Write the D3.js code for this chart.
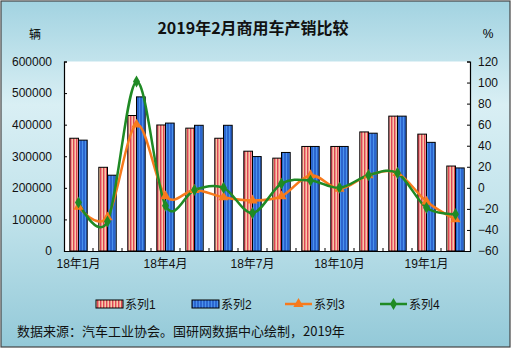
<!DOCTYPE html>
<html>
<head>
<meta charset="utf-8">
<script src="https://cdn.jsdelivr.net/npm/d3@7"></script>
<style>
  body { margin: 0; background: #fff; }
  svg { display: block; font-family: "Liberation Sans", "Noto Sans CJK SC", sans-serif; }
</style>
</head>
<body>
<div id="chart"></div>
<script>
const categories = ['18年1月', '18年2月', '18年3月', '18年4月', '18年5月', '18年6月', '18年7月',
  '18年8月', '18年9月', '18年10月', '18年11月', '18年12月', '19年1月', '19年2月']
const tickLabels = ['18年1月', '18年4月', '18年7月', '18年10月', '19年1月']
const series1 = [357000, 265000, 429000, 399000, 389000, 357000, 316000, 294000, 331000, 331000, 377000, 427000, 370000, 269000]
const series2 = [351000, 240000, 488000, 405000, 398000, 398000, 299000, 312000, 331000, 331000, 373000, 427000, 344000, 263000]
const series3 = [-18, -28, 60, -8, -2, -9, -12, -8, 12, -1, 12, 14, -13, -30]
const series4 = [-14, -32, 101, -17, -2, 0, -24, 4, 7, 0, 12, 14, -19, -25]
const seriesNames = ['系列1', '系列2', '系列3', '系列4']
const leftTicks = [0, 100000, 200000, 300000, 400000, 500000, 600000]
const rightTicks = [-60, -40, -20, 0, 20, 40, 60, 80, 100, 120]

const W = 512, H = 353
const PLOT = { LEFT: 64, RIGHT: 470, TOP: 61.5, BOTTOM: 251 }
const ORANGE = '#f77a1c', GREEN = '#1f8a24'

const svg = d3.select('#chart').append('svg')
  .attr('width', W).attr('height', H)

const defs = svg.append('defs')
const grad = defs.append('linearGradient').attr('id', 'bg')
  .attr('x1', 0).attr('y1', 0).attr('x2', 0).attr('y2', 1)
grad.append('stop').attr('offset', '0%').attr('stop-color', '#a2d3e1')
grad.append('stop').attr('offset', '30%').attr('stop-color', '#d9eff4')
grad.append('stop').attr('offset', '60%').attr('stop-color', '#c3e4ec')
grad.append('stop').attr('offset', '100%').attr('stop-color', '#93c9d8')

// striped bar fills
const p1 = defs.append('pattern').attr('id', 'pat1')
  .attr('patternUnits', 'userSpaceOnUse').attr('width', 3).attr('height', 4)
p1.append('rect').attr('width', 3).attr('height', 4).attr('fill', '#f8cba2')
p1.append('rect').attr('x', 1).attr('width', 1).attr('height', 4).attr('fill', '#dd4752')
p1.append('rect').attr('x', 2).attr('width', 1).attr('height', 4).attr('fill', '#ee8c8f')
const p2 = defs.append('pattern').attr('id', 'pat2')
  .attr('patternUnits', 'userSpaceOnUse').attr('width', 3).attr('height', 4)
p2.append('rect').attr('width', 3).attr('height', 4).attr('fill', '#2c66cf')
p2.append('rect').attr('x', 1).attr('width', 1).attr('height', 4).attr('fill', '#4a92ec')

// frame
svg.append('rect').attr('x', 1).attr('y', 1).attr('width', 509).attr('height', 346)
  .attr('fill', 'url(#bg)').attr('stroke', '#444').attr('stroke-width', 1.2)

svg.append('rect')
  .attr('x', PLOT.LEFT).attr('y', PLOT.TOP)
  .attr('width', PLOT.RIGHT - PLOT.LEFT).attr('height', PLOT.BOTTOM - PLOT.TOP)
  .attr('fill', '#fff')

//scales
const x = d3.scaleBand().domain(categories).range([PLOT.LEFT, PLOT.RIGHT])
const xs = d3.scaleBand().domain([0, 1]).range([x.bandwidth() * 0.2, x.bandwidth() * 0.8])
const yL = d3.scaleLinear().domain([0, 600000]).range([PLOT.BOTTOM, PLOT.TOP])
const yR = d3.scaleLinear().domain([-60, 120]).range([PLOT.BOTTOM, PLOT.TOP])

// bars
const barData = categories.flatMap((c, i) => [
  { c, k: 0, v: series1[i] },
  { c, k: 1, v: series2[i] }
])
svg.append('g').selectAll('rect').data(barData).join('rect')
  .attr('x', d => x(d.c) + xs(d.k))
  .attr('width', xs.bandwidth())
  .attr('y', d => yL(d.v))
  .attr('height', d => yL(0) - yL(d.v))
  .attr('fill', d => d.k === 0 ? 'url(#pat1)' : 'url(#pat2)')
  .attr('stroke', '#000').attr('stroke-width', 1)

// axes
const leftAxis = svg.append('g')
  .attr('transform', `translate(${PLOT.LEFT},0)`)
  .call(d3.axisLeft(yL).tickValues(leftTicks).tickSize(-3).tickPadding(10).tickFormat(d3.format('d')))
const rightAxis = svg.append('g')
  .attr('transform', `translate(${PLOT.RIGHT},0)`)
  .call(d3.axisRight(yR).tickValues(rightTicks).tickSize(-3).tickPadding(10))
const bottomAxis = svg.append('g')
  .attr('transform', `translate(0,${PLOT.BOTTOM})`)
  .call(d3.axisBottom(x).tickValues(tickLabels).tickSize(0).tickPadding(8))
bottomAxis.selectAll('.tick').attr('transform', d => `translate(${x(d) + x.bandwidth() / 2},0)`)

// category boundary ticks
svg.append('g').selectAll('line').data(categories.slice(1)).join('line')
  .attr('x1', d => x(d)).attr('x2', d => x(d))
  .attr('y1', PLOT.BOTTOM).attr('y2', PLOT.BOTTOM - 3)
  .attr('stroke', '#000')

svg.selectAll('.domain').attr('stroke', '#000').attr('stroke-width', 1.2)
svg.selectAll('.tick line').attr('stroke', '#000')
svg.selectAll('.tick text').attr('font-size', 12).attr('fill', '#111')
  .attr('font-family', '"Liberation Sans", "Noto Sans CJK SC", sans-serif')
rightAxis.selectAll('.tick text').attr('x', 8)
leftAxis.selectAll('.tick text').attr('x', -12)

// lines (excel style smoothing)
const cx = (d, i) => x(categories[i]) + x.bandwidth() / 2
const line = d3.line().x(cx).y(d => yR(d)).curve(d3.curveCatmullRom.alpha(0))

svg.append('path').datum(series3)
  .attr('d', line).attr('fill', 'none').attr('stroke', ORANGE).attr('stroke-width', 2.5)
svg.append('path').datum(series4)
  .attr('d', line).attr('fill', 'none').attr('stroke', GREEN).attr('stroke-width', 2.5)

const tri = d3.symbol().type(d3.symbolTriangle).size(45)
const dia = d3.symbol().type(d3.symbolDiamond).size(42)
svg.append('g').selectAll('path').data(series3).join('path')
  .attr('d', tri)
  .attr('transform', (d, i) => `translate(${cx(d, i)},${yR(d)})`)
  .attr('fill', ORANGE)
svg.append('g').selectAll('path').data(series4).join('path')
  .attr('d', dia)
  .attr('transform', (d, i) => `translate(${cx(d, i)},${yR(d)})`)
  .attr('fill', GREEN)

// texts
svg.append('text')
  .attr('x', 253).attr('y', 34)
  .attr('text-anchor', 'middle')
  .attr('font-size', 16).attr('font-weight', 'bold')
  .attr('font-family', '"Noto Sans CJK SC", sans-serif')
  .attr('fill', '#111')
  .text('2019年2月商用车产销比较')

svg.append('text').attr('x', 35).attr('y', 39)
  .attr('text-anchor', 'middle').attr('font-size', 12)
  .attr('font-family', '"Noto Sans CJK SC", sans-serif')
  .text('辆')
svg.append('text').attr('x', 488).attr('y', 38)
  .attr('text-anchor', 'middle').attr('font-size', 12)
  .text('%')

// legend
const legend = svg.append('g').attr('transform', 'translate(0,304)')
const legendX = [96, 192, 285, 380]
seriesNames.forEach((name, i) => {
  const g = legend.append('g').attr('transform', `translate(${legendX[i]},0)`)
  if (i < 2) {
    g.append('rect').attr('x', 0).attr('y', -4).attr('width', 27).attr('height', 8)
      .attr('fill', i === 0 ? 'url(#pat1)' : 'url(#pat2)')
      .attr('stroke', '#000')
  } else {
    const col = i === 2 ? ORANGE : GREEN
    g.append('line').attr('x1', 0).attr('x2', 27).attr('y1', 0).attr('y2', 0)
      .attr('stroke', col).attr('stroke-width', 2.5)
    g.append('path').attr('d', i === 2 ? tri : dia)
      .attr('transform', 'translate(13.5,0)').attr('fill', col)
  }
  g.append('text').attr('x', 29).attr('y', 4.5)
    .attr('font-size', 12).attr('fill', '#111')
    .text(name)
})

svg.append('text')
  .attr('x', 17).attr('y', 336)
  .attr('font-size', 13).attr('fill', '#111')
  .attr('font-family', '"Noto Sans CJK SC", sans-serif')
  .text('数据来源：汽车工业协会。国研网数据中心绘制，2019年')
</script>
</body>
</html>
